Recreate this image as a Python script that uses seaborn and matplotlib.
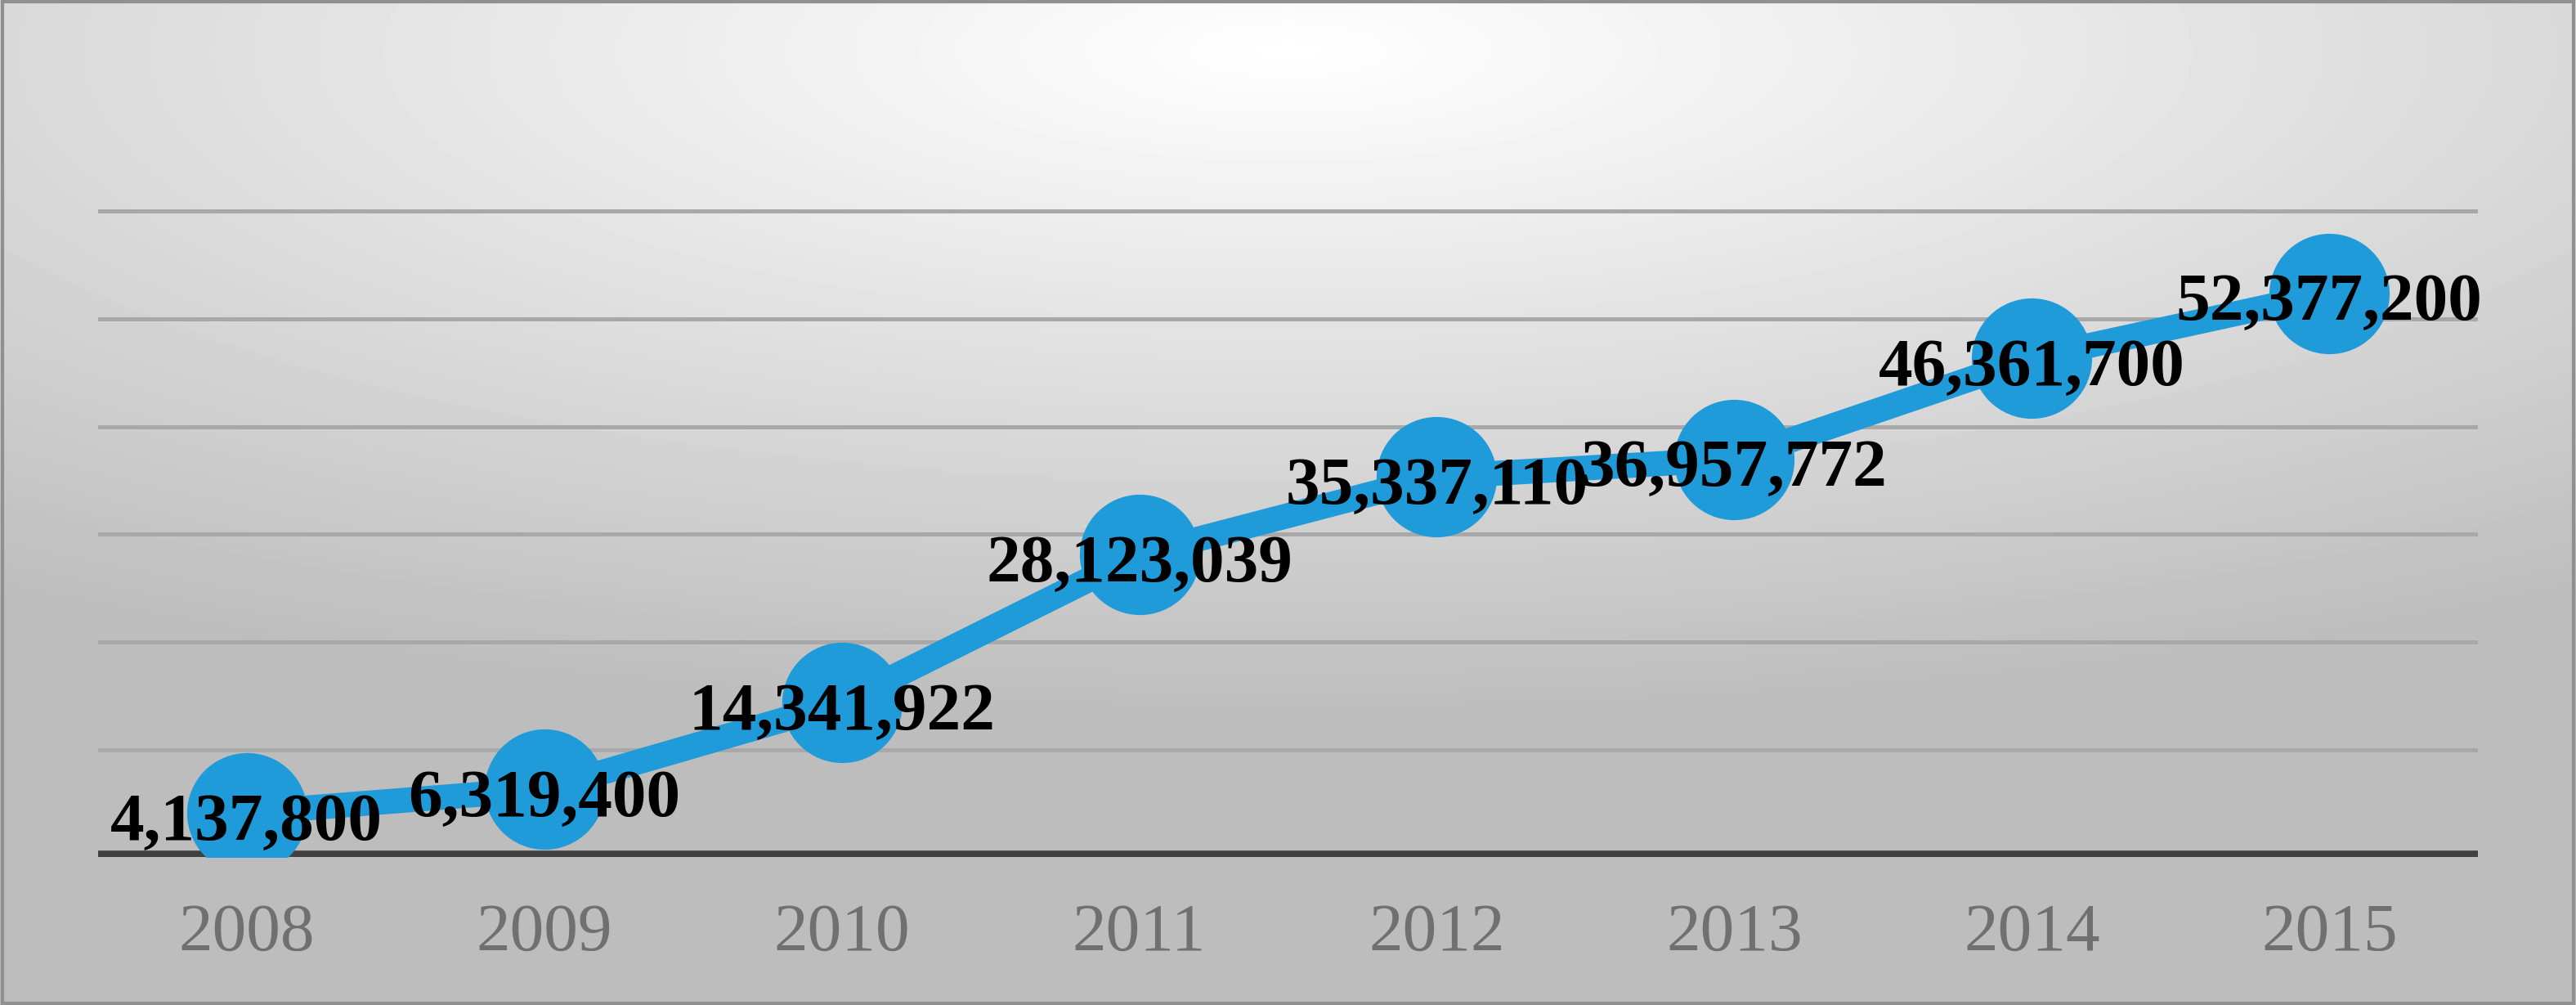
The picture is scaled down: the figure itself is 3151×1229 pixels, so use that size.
import numpy as np
import pandas as pd
import matplotlib
matplotlib.use("Agg")
import matplotlib.pyplot as plt
import seaborn as sns

years = ["2008", "2009", "2010", "2011", "2012", "2013", "2014", "2015"]
values = [4137800, 6319400, 14341922, 28123039, 35337110, 36957772, 46361700, 52377200]
labels = ["4,137,800", "6,319,400", "14,341,922", "28,123,039", "35,337,110", "36,957,772", "46,361,700", "52,377,200"]

sns.set_theme(style="white")
plt.rcParams['font.family'] = ['Liberation Serif', 'DejaVu Serif']

fig = plt.figure(figsize=(15.755, 6.145), dpi=200)
# background gradient (white near top centre, gray towards edges)
bg = fig.add_axes([0, 0, 1, 1], zorder=0)
yy, xx = np.mgrid[0:1:300j, 0:1:600j]
d = np.sqrt(((xx - 0.5) * 1.0) ** 2 + ((yy - 0.95) * 1.3) ** 2)
img = np.clip(1.0 - 0.3 * d, 0.74, 1.0)
bg.imshow(img, cmap="gray", vmin=0, vmax=1, aspect="auto", extent=[0, 1, 0, 1], origin="lower")
bg.add_patch(plt.Rectangle((0.001, 0.002), 0.998, 0.996, fill=False, ec="#909090", lw=1.5))
bg.axis("off")

ax = fig.add_axes([0.038, 0.147, 0.924, 0.75], zorder=1)
ax.patch.set_alpha(0)
df = pd.DataFrame({"year": years, "value": values})
x = np.arange(len(years))
for g in range(10_000_000, 70_000_000, 10_000_000):
    ax.axhline(g, color="#a8a8a8", lw=1.8, zorder=1)
ax.axhline(0, color="#404040", lw=6, zorder=2)
sns.lineplot(data=df, x=x, y="value", ax=ax, color="#1f9bd9", lw=11, marker="o",
             markersize=53, markeredgewidth=0, zorder=3)
for xi, v, t in zip(x, values, labels):
    ax.text(xi, v - 1_000_000, t, ha="center", va="center", fontsize=30,
            fontweight="bold", color="black", zorder=4)
ax.set_xlim(-0.5, 7.5)
ax.set_ylim(0, 70_000_000)
ax.set_xticks(x)
ax.set_xticklabels(years, fontsize=30, color="#707070")
ax.tick_params(axis="x", length=0, pad=20)
ax.set_yticks([])
ax.set_xlabel("")
ax.set_ylabel("")
for s in ax.spines.values():
    s.set_visible(False)
fig.savefig("out.png", dpi=200)
